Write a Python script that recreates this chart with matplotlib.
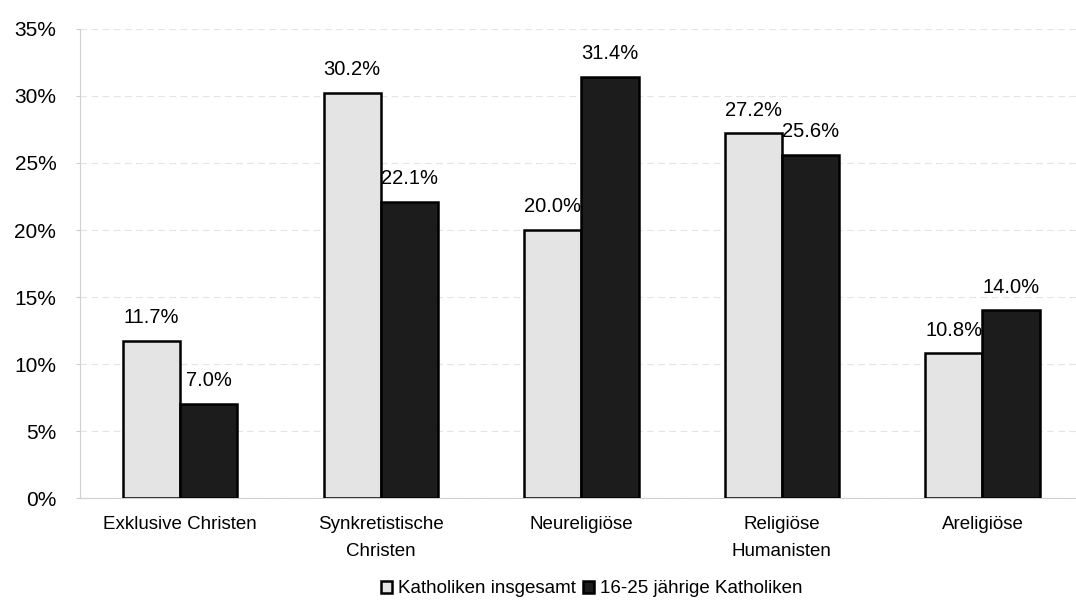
import matplotlib
matplotlib.use("Agg")
import matplotlib.pyplot as plt
import numpy as np

categories = ["Exklusive Christen", "Synkretistische\nChristen", "Neureligiöse",
              "Religiöse\nHumanisten", "Areligiöse"]
katholiken_gesamt = [11.7, 30.2, 20.0, 27.2, 10.8]
katholiken_jung = [7.0, 22.1, 31.4, 25.6, 14.0]
series_names = ["Katholiken insgesamt", "16-25 jährige Katholiken"]
y_ticks = [0, 5, 10, 15, 20, 25, 30, 35]

plt.rcParams["font.family"] = ["Liberation Sans", "DejaVu Sans"]

fig = plt.figure(figsize=(10.76, 6.01), dpi=100)
ax = fig.add_axes([0.0743, 0.171, 0.932, 0.781])

x = np.arange(len(categories))
w = 0.285
b1 = ax.bar(x - w / 2, katholiken_gesamt, w, color="#e4e4e4", edgecolor="black",
            linewidth=1.8, label=series_names[0], zorder=3)
b2 = ax.bar(x + w / 2, katholiken_jung, w, color="#1c1c1c", edgecolor="black",
            linewidth=1.8, label=series_names[1], zorder=3)

for bars, vals in ((b1, katholiken_gesamt), (b2, katholiken_jung)):
    for rect, v in zip(bars, vals):
        ax.annotate(f"{v:.1f}%", (rect.get_x() + rect.get_width() / 2, v),
                    xytext=(0, 10), textcoords="offset points",
                    ha="center", va="bottom", fontsize=14.5, zorder=4)

ax.set_xlim(-0.5, 4.5)
ax.set_ylim(0, 35)
ax.set_yticks(y_ticks)
ax.set_yticklabels([f"{t}%" for t in y_ticks], fontsize=15)
ax.set_xticks(x)
ax.set_xticklabels(categories, fontsize=13.5, va="top", linespacing=1.75)
ax.tick_params(axis="x", length=0, pad=13)
ax.tick_params(axis="y", length=3, color="#cccccc", pad=14)

ax.grid(axis="y", color="#e4e4e4", linestyle=(0, (6, 4)), linewidth=0.8, zorder=0)
for side in ("top", "right"):
    ax.spines[side].set_visible(False)
ax.spines["left"].set_color("#d0d0d0")
ax.spines["bottom"].set_color("#d0d0d0")

fig.legend(handles=[b1, b2], labels=series_names, loc="lower center",
           bbox_to_anchor=(0.55, -0.022), ncol=2, frameon=False, fontsize=13.5,
           handlelength=0.6, handleheight=0.6, handletextpad=0.3, columnspacing=0.4)

fig.savefig("out.png", dpi=100)
